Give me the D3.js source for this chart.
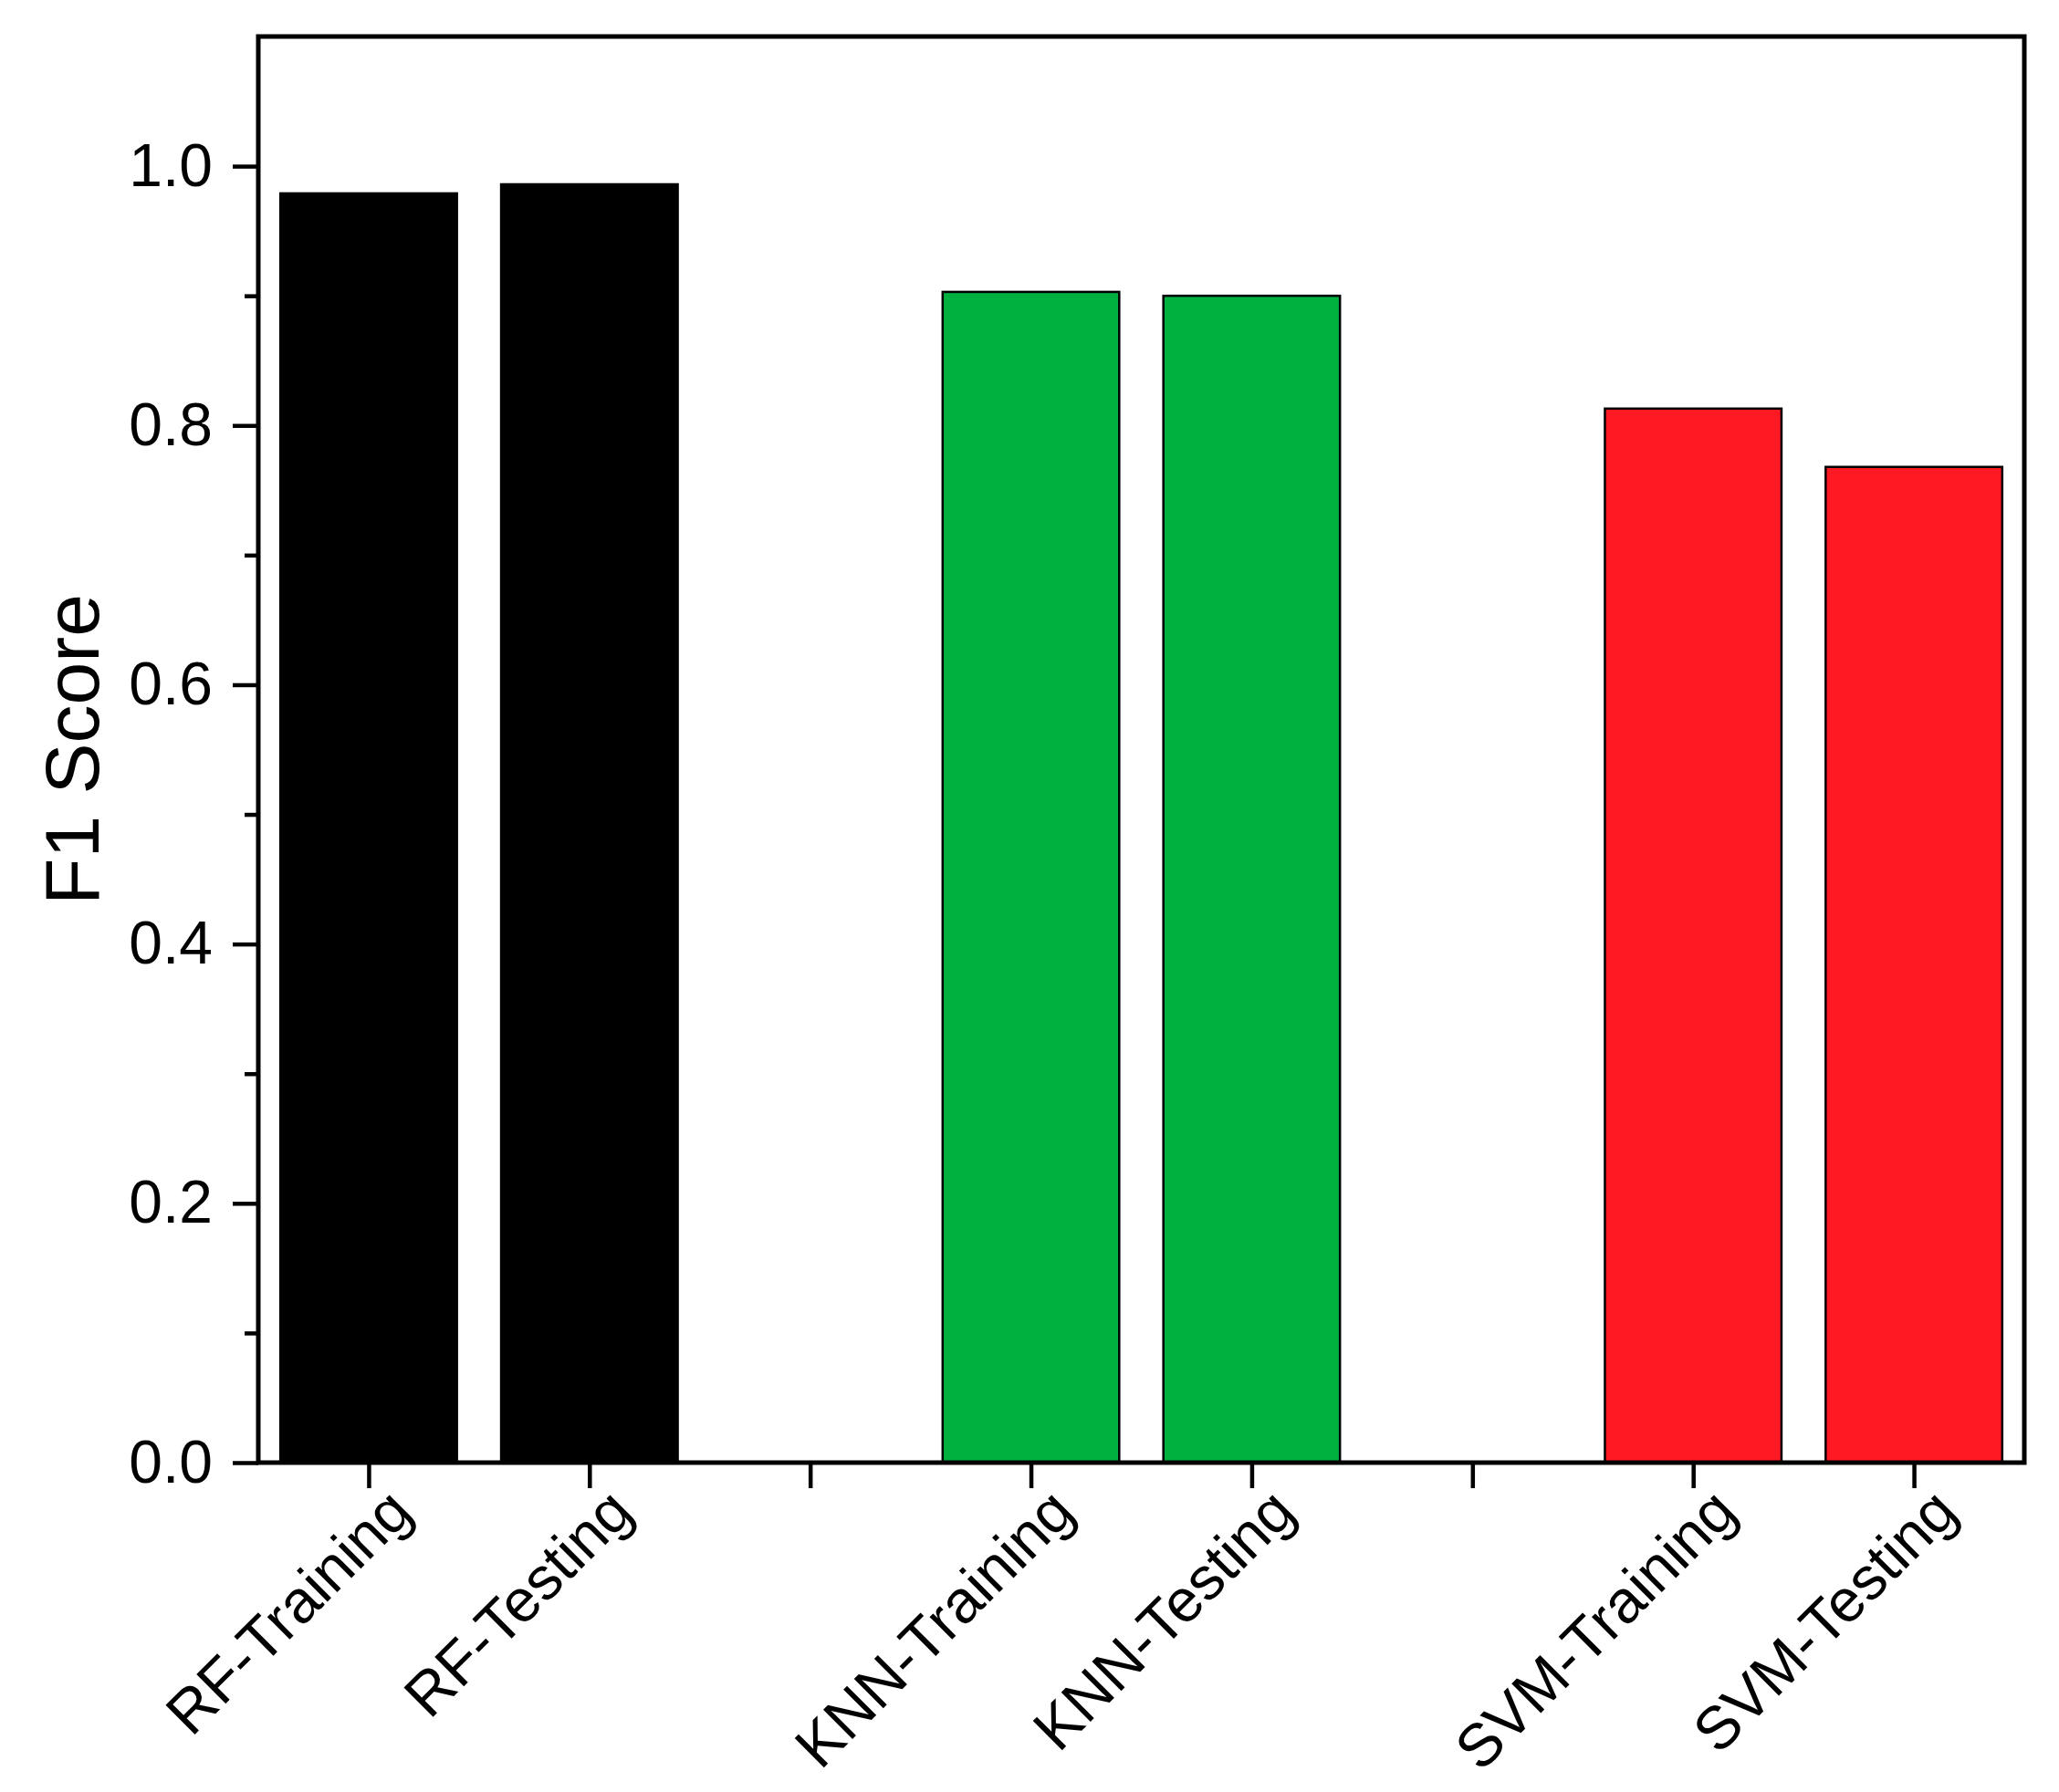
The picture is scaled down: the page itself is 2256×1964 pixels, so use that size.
<!DOCTYPE html>
<meta charset="utf-8">
<style>
body { margin: 0; background: #fff; }
text { font-family: "Liberation Sans", Arial, sans-serif; fill: #000; }
.bars rect { stroke: #000; stroke-width: 2.5px; }
.axis line { stroke: #000; stroke-width: 4.5px; }
.axis path { display: none; }
</style>
<svg width="2256" height="1964"></svg>
<script src="https://d3js.org/d3.v7.min.js"></script>
<script>

// data
var labels = ["RF-Training", "RF-Testing", "KNN-Training", "KNN-Testing", "SVM-Training", "SVM-Testing"];
var positions = [1, 2, 4, 5, 7, 8];
var values = [0.979, 0.986, 0.903, 0.900, 0.813, 0.768];
var colors = ["#000000", "#000000", "#00B140", "#00B140", "#FF1923", "#FF1923"];
var tickPositions = [1, 2, 3, 4, 5, 6, 7, 8];
var yMajor = [0, 0.2, 0.4, 0.6, 0.8, 1.0];
var yMinor = [0.1, 0.3, 0.5, 0.7, 0.9];

var svg = d3.select("svg"),
    plotLeft = 283, plotRight = 2218, plotTop = 40, plotBottom = 1603;

var x = d3.scaleLinear().domain([0.5, 8.5]).range([plotLeft, plotRight]);
var y = d3.scaleLinear().domain([0, 1.1]).range([plotBottom, plotTop]);
var barW = (x(1) - x(0)) * 0.8;

var data = labels.map(function(l, i) {
  return { label: l, pos: positions[i], value: values[i], color: colors[i] };
});

svg.append("g")
    .attr("class", "bars")
  .selectAll("rect")
  .data(data)
  .enter().append("rect")
    .attr("x", function(d) { return x(d.pos) - barW / 2; })
    .attr("width", barW)
    .attr("y", function(d) { return y(d.value); })
    .attr("height", function(d) { return y(0) - y(d.value); })
    .attr("fill", function(d) { return d.color; });

// y axis
var yAxis = svg.append("g")
    .attr("class", "axis")
    .attr("transform", "translate(" + plotLeft + ",0)")
    .call(d3.axisLeft(y).tickValues(yMajor).tickSize(28).tickPadding(22)
      .tickFormat(d3.format(".1f")));
yAxis.selectAll("text").style("font-size", "66px");

svg.append("g")
    .attr("class", "axis")
    .attr("transform", "translate(" + plotLeft + ",0)")
    .call(d3.axisLeft(y).tickValues(yMinor).tickSize(15).tickFormat(""));

// x axis
var lookup = {};
data.forEach(function(d) { lookup[d.pos] = d.label; });

var xAxis = svg.append("g")
    .attr("class", "axis")
    .attr("transform", "translate(0," + plotBottom + ")")
    .call(d3.axisBottom(x).tickValues(tickPositions).tickSize(28)
      .tickFormat(function(d) { return lookup[d] || ""; }));

xAxis.selectAll("text")
    .style("font-size", "66px")
    .attr("text-anchor", "end")
    .attr("dy", null)
    .attr("y", null)
    .attr("transform", "translate(50,57) rotate(-45)");

// frame
svg.append("rect")
    .attr("x", plotLeft)
    .attr("y", plotTop)
    .attr("width", plotRight - plotLeft)
    .attr("height", plotBottom - plotTop)
    .attr("fill", "none")
    .attr("stroke", "#000")
    .attr("stroke-width", 5);

svg.append("text")
    .attr("transform", "translate(108," + (plotTop + plotBottom) / 2 + ") rotate(-90)")
    .attr("text-anchor", "middle")
    .style("font-size", "84px")
    .text("F1 Score");

</script>
